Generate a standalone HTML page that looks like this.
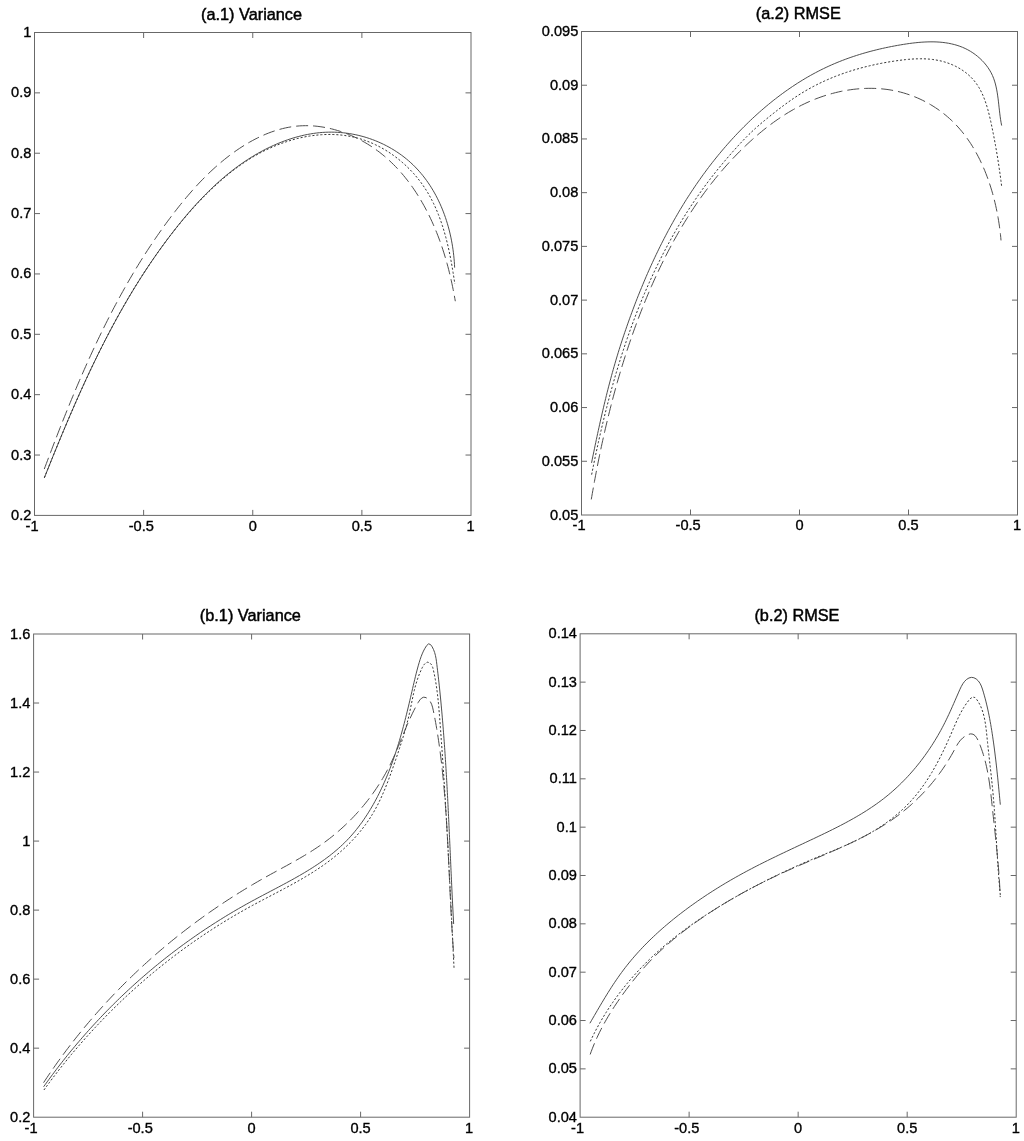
<!DOCTYPE html>
<html><head><meta charset="utf-8"><title>Variance and RMSE</title>
<style>html,body{margin:0;padding:0;background:#fff;}svg{display:block;}text{font-family:"Liberation Sans", Arial, Helvetica, sans-serif;font-size:14.6px;fill:#000;stroke:#000;stroke-width:0.35px;}text.t{font-size:16.3px;stroke-width:0.45px;}</style>
</head><body>
<svg width="1024" height="1141" viewBox="0 0 1024 1141">
<rect width="1024" height="1141" fill="#fff"/>
<rect x="34.50" y="32.50" width="436.50" height="482.90" fill="none" stroke="#686868" stroke-width="1"/>
<text transform="translate(32.00 530.80) scale(1 1.04)" text-anchor="middle">-1</text>
<text transform="translate(141.22 530.80) scale(1 1.04)" text-anchor="middle">-0.5</text>
<text transform="translate(252.75 530.80) scale(1 1.04)" text-anchor="middle">0</text>
<text transform="translate(361.88 530.80) scale(1 1.04)" text-anchor="middle">0.5</text>
<text transform="translate(470.50 530.80) scale(1 1.04)" text-anchor="middle">1</text>
<text transform="translate(31.30 519.90) scale(1 1.04)" text-anchor="end">0.2</text>
<text transform="translate(31.30 459.54) scale(1 1.04)" text-anchor="end">0.3</text>
<text transform="translate(31.30 399.17) scale(1 1.04)" text-anchor="end">0.4</text>
<text transform="translate(31.30 338.81) scale(1 1.04)" text-anchor="end">0.5</text>
<text transform="translate(31.30 278.45) scale(1 1.04)" text-anchor="end">0.6</text>
<text transform="translate(31.30 218.09) scale(1 1.04)" text-anchor="end">0.7</text>
<text transform="translate(31.30 157.72) scale(1 1.04)" text-anchor="end">0.8</text>
<text transform="translate(31.30 97.36) scale(1 1.04)" text-anchor="end">0.9</text>
<text transform="translate(31.30 37.00) scale(1 1.04)" text-anchor="end">1</text>
<path d="M143.62 515.40v-5.5M143.62 32.50v5.5M252.75 515.40v-5.5M252.75 32.50v5.5M361.88 515.40v-5.5M361.88 32.50v5.5M34.50 455.04h5.5M471.00 455.04h-5.5M34.50 394.67h5.5M471.00 394.67h-5.5M34.50 334.31h5.5M471.00 334.31h-5.5M34.50 273.95h5.5M471.00 273.95h-5.5M34.50 213.59h5.5M471.00 213.59h-5.5M34.50 153.22h5.5M471.00 153.22h-5.5M34.50 92.86h5.5M471.00 92.86h-5.5" stroke="#686868" stroke-width="1" fill="none"/>
<text class="t" x="251.55" y="19.70" text-anchor="middle">(a.1) Variance</text>
<path d="M44.35 477.90 L45.45 475.12 L46.56 472.33 L47.67 469.55 L48.79 466.77 L49.90 463.98 L51.02 461.20 L52.14 458.42 L53.27 455.64 L54.39 452.87 L55.52 450.09 L56.66 447.31 L57.79 444.54 L58.93 441.77 L60.08 439.00 L61.23 436.23 L62.38 433.46 L63.53 430.70 L64.69 427.94 L65.86 425.17 L67.03 422.42 L68.20 419.66 L69.38 416.90 L70.56 414.15 L71.75 411.40 L72.94 408.66 L74.14 405.91 L75.34 403.17 L76.55 400.43 L77.76 397.69 L78.98 394.96 L80.21 392.23 L81.44 389.50 L82.67 386.78 L83.92 384.06 L85.17 381.34 L86.42 378.63 L87.69 375.92 L88.96 373.21 L90.23 370.51 L91.51 367.81 L92.80 365.12 L94.10 362.42 L95.41 359.74 L96.72 357.05 L98.04 354.37 L99.37 351.70 L100.70 349.03 L102.04 346.36 L103.40 343.70 L104.76 341.04 L106.12 338.39 L107.50 335.74 L108.88 333.10 L110.28 330.46 L111.68 327.83 L113.09 325.20 L114.51 322.58 L115.94 319.96 L117.38 317.35 L118.83 314.74 L120.29 312.14 L121.75 309.54 L123.23 306.95 L124.72 304.36 L126.22 301.79 L127.73 299.21 L129.24 296.64 L130.77 294.08 L132.31 291.53 L133.86 288.98 L135.42 286.44 L137.00 283.90 L138.58 281.37 L140.17 278.85 L141.78 276.33 L143.40 273.82 L145.03 271.32 L146.67 268.82 L148.32 266.33 L149.98 263.85 L151.66 261.37 L153.35 258.90 L155.05 256.44 L156.76 253.99 L158.49 251.54 L160.23 249.10 L161.98 246.67 L163.75 244.25 L165.53 241.83 L167.32 239.42 L169.12 237.02 L170.94 234.63 L172.77 232.24 L174.62 229.87 L176.48 227.50 L178.35 225.15 L180.24 222.80 L182.15 220.47 L184.07 218.15 L186.00 215.84 L187.95 213.55 L189.92 211.27 L191.90 209.01 L193.90 206.76 L195.92 204.53 L197.95 202.32 L200.00 200.13 L202.07 197.96 L204.15 195.80 L206.26 193.67 L208.38 191.56 L210.52 189.47 L212.68 187.40 L214.85 185.36 L217.05 183.34 L219.27 181.35 L221.50 179.39 L223.76 177.45 L226.04 175.54 L228.33 173.65 L230.65 171.80 L232.99 169.97 L235.35 168.18 L237.73 166.42 L240.13 164.69 L242.56 162.99 L245.01 161.33 L247.48 159.70 L249.97 158.10 L252.48 156.54 L255.02 155.02 L257.58 153.53 L260.17 152.09 L262.78 150.68 L265.42 149.31 L268.08 147.98 L270.76 146.69 L273.47 145.45 L276.20 144.25 L278.95 143.09 L281.73 141.98 L284.53 140.92 L287.34 139.92 L290.18 138.96 L293.03 138.06 L295.90 137.22 L298.79 136.43 L301.69 135.71 L304.60 135.04 L307.53 134.44 L310.47 133.91 L313.42 133.44 L316.38 133.04 L319.35 132.71 L322.32 132.45 L325.31 132.27 L328.30 132.17 L331.29 132.14 L334.29 132.18 L337.29 132.30 L340.28 132.50 L343.27 132.78 L346.26 133.13 L349.24 133.55 L352.21 134.05 L355.16 134.63 L358.11 135.27 L361.03 136.00 L363.94 136.79 L366.83 137.66 L369.70 138.61 L372.54 139.62 L375.36 140.70 L378.15 141.86 L380.91 143.08 L383.63 144.37 L386.32 145.72 L388.97 147.15 L391.58 148.63 L394.16 150.18 L396.68 151.80 L399.17 153.47 L401.60 155.21 L403.99 157.01 L406.32 158.87 L408.60 160.78 L410.82 162.75 L412.99 164.78 L415.09 166.86 L417.14 169.00 L419.13 171.19 L421.07 173.43 L422.94 175.71 L424.76 178.05 L426.53 180.42 L428.23 182.85 L429.89 185.31 L431.48 187.81 L433.02 190.36 L434.51 192.93 L435.94 195.55 L437.31 198.20 L438.63 200.88 L439.90 203.59 L441.11 206.33 L442.27 209.09 L443.38 211.89 L444.43 214.70 L445.44 217.54 L446.38 220.40 L447.28 223.28 L448.12 226.17 L448.92 229.09 L449.66 232.01 L450.35 234.95 L450.99 237.90 L451.57 240.86 L452.11 243.82 L452.60 246.80 L453.04 249.77 L453.43 252.75 L453.76 255.74 L454.05 258.72 L454.30 261.69 L454.49 264.67 L454.63 267.64" fill="none" stroke="#444" stroke-width="0.95"/>
<path d="M44.36 477.61 L45.46 474.87 L46.57 472.12 L47.68 469.37 L48.79 466.62 L49.91 463.87 L51.03 461.12 L52.15 458.37 L53.27 455.61 L54.40 452.86 L55.53 450.10 L56.66 447.35 L57.80 444.59 L58.94 441.84 L60.08 439.08 L61.23 436.33 L62.38 433.57 L63.53 430.82 L64.69 428.06 L65.86 425.31 L67.03 422.56 L68.20 419.81 L69.38 417.05 L70.56 414.31 L71.74 411.56 L72.94 408.81 L74.13 406.07 L75.34 403.32 L76.54 400.58 L77.76 397.84 L78.98 395.10 L80.20 392.37 L81.43 389.64 L82.67 386.90 L83.91 384.18 L85.16 381.45 L86.42 378.73 L87.68 376.01 L88.95 373.29 L90.23 370.58 L91.51 367.87 L92.80 365.16 L94.10 362.46 L95.41 359.76 L96.72 357.06 L98.04 354.37 L99.37 351.68 L100.70 349.00 L102.05 346.32 L103.40 343.65 L104.76 340.98 L106.13 338.31 L107.50 335.65 L108.89 333.00 L110.28 330.34 L111.69 327.70 L113.10 325.06 L114.52 322.42 L115.95 319.80 L117.39 317.17 L118.84 314.56 L120.30 311.94 L121.77 309.34 L123.25 306.74 L124.74 304.15 L126.23 301.56 L127.74 298.98 L129.26 296.41 L130.79 293.84 L132.34 291.28 L133.89 288.73 L135.45 286.19 L137.02 283.65 L138.61 281.12 L140.21 278.59 L141.81 276.08 L143.43 273.57 L145.06 271.07 L146.71 268.58 L148.36 266.10 L150.03 263.63 L151.71 261.16 L153.40 258.70 L155.10 256.26 L156.82 253.82 L158.55 251.39 L160.29 248.96 L162.05 246.55 L163.81 244.15 L165.60 241.76 L167.39 239.37 L169.20 237.00 L171.02 234.63 L172.86 232.28 L174.71 229.94 L176.57 227.60 L178.45 225.28 L180.34 222.97 L182.25 220.66 L184.17 218.38 L186.10 216.10 L188.06 213.83 L190.03 211.58 L192.01 209.35 L194.01 207.13 L196.03 204.92 L198.07 202.73 L200.12 200.56 L202.19 198.40 L204.28 196.26 L206.39 194.14 L208.52 192.03 L210.67 189.95 L212.83 187.89 L215.02 185.84 L217.23 183.82 L219.46 181.82 L221.70 179.84 L223.98 177.89 L226.27 175.96 L228.59 174.06 L230.93 172.18 L233.29 170.34 L235.68 168.52 L238.10 166.74 L240.55 165.00 L243.02 163.28 L245.52 161.61 L248.05 159.97 L250.61 158.37 L253.20 156.82 L255.82 155.30 L258.47 153.83 L261.15 152.40 L263.86 151.02 L266.58 149.69 L269.34 148.40 L272.11 147.16 L274.91 145.97 L277.72 144.84 L280.56 143.75 L283.41 142.72 L286.27 141.75 L289.15 140.83 L292.05 139.96 L294.95 139.16 L297.87 138.41 L300.79 137.73 L303.72 137.10 L306.66 136.54 L309.60 136.05 L312.55 135.62 L315.50 135.25 L318.45 134.95 L321.40 134.72 L324.34 134.56 L327.29 134.48 L330.23 134.46 L333.16 134.52 L336.09 134.65 L339.00 134.85 L341.91 135.13 L344.81 135.50 L347.69 135.93 L350.56 136.45 L353.42 137.05 L356.25 137.74 L359.07 138.50 L361.88 139.35 L364.66 140.28 L367.41 141.29 L370.15 142.37 L372.85 143.53 L375.53 144.77 L378.19 146.07 L380.81 147.45 L383.40 148.90 L385.96 150.42 L388.48 152.00 L390.96 153.65 L393.41 155.37 L395.82 157.14 L398.19 158.98 L400.52 160.87 L402.80 162.82 L405.04 164.83 L407.22 166.89 L409.37 169.01 L411.46 171.18 L413.50 173.39 L415.48 175.66 L417.41 177.97 L419.29 180.33 L421.11 182.73 L422.87 185.17 L424.57 187.66 L426.20 190.18 L427.78 192.74 L429.29 195.34 L430.75 197.97 L432.14 200.63 L433.49 203.33 L434.77 206.05 L436.01 208.80 L437.20 211.57 L438.33 214.37 L439.42 217.19 L440.46 220.02 L441.46 222.88 L442.41 225.75 L443.32 228.64 L444.19 231.54 L445.03 234.44 L445.82 237.36 L446.58 240.29 L447.31 243.22 L448.00 246.15 L448.67 249.08 L449.30 252.02 L449.91 254.95 L450.49 257.88 L451.04 260.80 L451.58 263.72 L452.09 266.63 L452.58 269.52 L453.05 272.40 L453.51 275.27 L453.95 278.12 L454.38 280.96 L454.79 283.77" fill="none" stroke="#2a2a2a" stroke-width="0.95" stroke-dasharray="2.1 1.9"/>
<path d="M44.27 469.05 L45.32 466.27 L46.36 463.49 L47.41 460.72 L48.46 457.94 L49.52 455.16 L50.58 452.38 L51.64 449.60 L52.70 446.82 L53.77 444.04 L54.84 441.26 L55.92 438.48 L57.00 435.70 L58.08 432.92 L59.17 430.14 L60.26 427.36 L61.35 424.58 L62.45 421.81 L63.56 419.03 L64.67 416.26 L65.78 413.48 L66.90 410.71 L68.03 407.94 L69.16 405.17 L70.29 402.40 L71.43 399.63 L72.58 396.87 L73.73 394.10 L74.88 391.34 L76.05 388.58 L77.21 385.83 L78.39 383.07 L79.57 380.32 L80.76 377.57 L81.95 374.82 L83.15 372.08 L84.36 369.33 L85.57 366.60 L86.79 363.86 L88.01 361.13 L89.25 358.40 L90.49 355.67 L91.74 352.95 L92.99 350.23 L94.26 347.51 L95.53 344.80 L96.81 342.09 L98.09 339.39 L99.39 336.69 L100.69 333.99 L102.00 331.30 L103.32 328.61 L104.65 325.93 L105.98 323.25 L107.33 320.58 L108.68 317.91 L110.04 315.25 L111.41 312.59 L112.79 309.94 L114.18 307.29 L115.58 304.65 L116.99 302.01 L118.41 299.38 L119.84 296.75 L121.27 294.13 L122.72 291.52 L124.18 288.91 L125.65 286.31 L127.12 283.71 L128.61 281.12 L130.11 278.54 L131.62 275.96 L133.14 273.39 L134.67 270.83 L136.21 268.27 L137.76 265.72 L139.33 263.18 L140.90 260.64 L142.49 258.12 L144.09 255.59 L145.70 253.08 L147.32 250.58 L148.95 248.08 L150.60 245.59 L152.25 243.11 L153.92 240.63 L155.61 238.16 L157.30 235.71 L159.01 233.26 L160.73 230.82 L162.46 228.38 L164.20 225.96 L165.96 223.54 L167.73 221.14 L169.52 218.74 L171.31 216.35 L173.12 213.97 L174.95 211.60 L176.79 209.24 L178.64 206.89 L180.51 204.55 L182.39 202.23 L184.29 199.91 L186.21 197.61 L188.15 195.32 L190.11 193.05 L192.08 190.80 L194.08 188.56 L196.10 186.33 L198.14 184.13 L200.20 181.94 L202.29 179.77 L204.40 177.63 L206.53 175.50 L208.69 173.39 L210.88 171.31 L213.10 169.25 L215.34 167.22 L217.62 165.21 L219.92 163.22 L222.25 161.27 L224.61 159.34 L227.00 157.44 L229.42 155.58 L231.87 153.75 L234.34 151.95 L236.84 150.20 L239.36 148.49 L241.91 146.83 L244.48 145.21 L247.07 143.63 L249.68 142.11 L252.32 140.65 L254.98 139.23 L257.66 137.88 L260.35 136.58 L263.07 135.35 L265.80 134.17 L268.55 133.07 L271.32 132.03 L274.10 131.07 L276.90 130.17 L279.71 129.35 L282.53 128.61 L285.37 127.94 L288.22 127.36 L291.08 126.86 L293.95 126.45 L296.84 126.12 L299.73 125.88 L302.62 125.74 L305.53 125.68 L308.44 125.70 L311.35 125.82 L314.26 126.01 L317.17 126.29 L320.08 126.66 L322.99 127.10 L325.88 127.62 L328.77 128.22 L331.65 128.89 L334.52 129.64 L337.38 130.46 L340.22 131.35 L343.04 132.32 L345.84 133.35 L348.63 134.45 L351.39 135.62 L354.13 136.86 L356.84 138.15 L359.53 139.51 L362.18 140.93 L364.81 142.42 L367.40 143.95 L369.96 145.55 L372.49 147.20 L374.97 148.91 L377.42 150.67 L379.82 152.48 L382.18 154.34 L384.50 156.25 L386.78 158.21 L389.01 160.22 L391.20 162.27 L393.35 164.36 L395.46 166.49 L397.53 168.67 L399.56 170.89 L401.54 173.14 L403.49 175.43 L405.39 177.76 L407.26 180.12 L409.08 182.52 L410.87 184.94 L412.62 187.40 L414.33 189.88 L416.00 192.39 L417.63 194.93 L419.23 197.50 L420.78 200.08 L422.30 202.69 L423.79 205.32 L425.23 207.97 L426.64 210.64 L428.01 213.32 L429.35 216.02 L430.65 218.73 L431.92 221.46 L433.15 224.20 L434.35 226.95 L435.51 229.71 L436.64 232.48 L437.74 235.26 L438.81 238.05 L439.84 240.86 L440.85 243.67 L441.82 246.49 L442.76 249.31 L443.68 252.15 L444.56 254.99 L445.42 257.84 L446.25 260.70 L447.05 263.57 L447.83 266.44 L448.58 269.31 L449.31 272.19 L450.01 275.08 L450.69 277.97 L451.34 280.86 L451.98 283.76 L452.59 286.66 L453.17 289.57 L453.74 292.48 L454.29 295.39 L454.81 298.30 L455.32 301.21" fill="none" stroke="#444" stroke-width="0.95" stroke-dasharray="12 5"/>
<rect x="581.50" y="31.50" width="436.00" height="483.50" fill="none" stroke="#686868" stroke-width="1"/>
<text transform="translate(579.00 530.40) scale(1 1.04)" text-anchor="middle">-1</text>
<text transform="translate(688.10 530.40) scale(1 1.04)" text-anchor="middle">-0.5</text>
<text transform="translate(799.50 530.40) scale(1 1.04)" text-anchor="middle">0</text>
<text transform="translate(908.50 530.40) scale(1 1.04)" text-anchor="middle">0.5</text>
<text transform="translate(1017.00 530.40) scale(1 1.04)" text-anchor="middle">1</text>
<text transform="translate(578.30 519.50) scale(1 1.04)" text-anchor="end">0.05</text>
<text transform="translate(578.30 465.78) scale(1 1.04)" text-anchor="end">0.055</text>
<text transform="translate(578.30 412.06) scale(1 1.04)" text-anchor="end">0.06</text>
<text transform="translate(578.30 358.33) scale(1 1.04)" text-anchor="end">0.065</text>
<text transform="translate(578.30 304.61) scale(1 1.04)" text-anchor="end">0.07</text>
<text transform="translate(578.30 250.89) scale(1 1.04)" text-anchor="end">0.075</text>
<text transform="translate(578.30 197.17) scale(1 1.04)" text-anchor="end">0.08</text>
<text transform="translate(578.30 143.44) scale(1 1.04)" text-anchor="end">0.085</text>
<text transform="translate(578.30 89.72) scale(1 1.04)" text-anchor="end">0.09</text>
<text transform="translate(578.30 36.00) scale(1 1.04)" text-anchor="end">0.095</text>
<path d="M690.50 515.00v-5.5M690.50 31.50v5.5M799.50 515.00v-5.5M799.50 31.50v5.5M908.50 515.00v-5.5M908.50 31.50v5.5M581.50 461.28h5.5M1017.50 461.28h-5.5M581.50 407.56h5.5M1017.50 407.56h-5.5M581.50 353.83h5.5M1017.50 353.83h-5.5M581.50 300.11h5.5M1017.50 300.11h-5.5M581.50 246.39h5.5M1017.50 246.39h-5.5M581.50 192.67h5.5M1017.50 192.67h-5.5M581.50 138.94h5.5M1017.50 138.94h-5.5M581.50 85.22h5.5M1017.50 85.22h-5.5" stroke="#686868" stroke-width="1" fill="none"/>
<text class="t" x="798.30" y="18.70" text-anchor="middle">(a.2) RMSE</text>
<path d="M591.54 462.86 L592.14 459.93 L592.73 457.00 L593.33 454.08 L593.94 451.15 L594.54 448.22 L595.15 445.29 L595.77 442.36 L596.38 439.43 L597.01 436.50 L597.64 433.57 L598.27 430.64 L598.91 427.72 L599.55 424.79 L600.20 421.86 L600.86 418.94 L601.52 416.01 L602.19 413.09 L602.86 410.17 L603.55 407.25 L604.24 404.33 L604.94 401.42 L605.65 398.50 L606.36 395.59 L607.09 392.68 L607.82 389.77 L608.56 386.87 L609.32 383.97 L610.08 381.07 L610.85 378.18 L611.64 375.28 L612.43 372.39 L613.24 369.51 L614.05 366.63 L614.88 363.75 L615.72 360.88 L616.57 358.01 L617.44 355.14 L618.31 352.28 L619.20 349.42 L620.10 346.57 L621.01 343.72 L621.94 340.87 L622.87 338.03 L623.82 335.19 L624.78 332.36 L625.75 329.53 L626.73 326.70 L627.72 323.87 L628.72 321.05 L629.73 318.23 L630.75 315.41 L631.79 312.59 L632.83 309.78 L633.89 306.98 L634.95 304.17 L636.03 301.37 L637.12 298.58 L638.22 295.78 L639.34 293.00 L640.46 290.21 L641.60 287.43 L642.75 284.66 L643.91 281.89 L645.08 279.13 L646.26 276.37 L647.46 273.62 L648.67 270.87 L649.89 268.13 L651.13 265.39 L652.38 262.66 L653.64 259.94 L654.91 257.22 L656.20 254.51 L657.50 251.80 L658.81 249.11 L660.14 246.42 L661.48 243.73 L662.83 241.06 L664.20 238.39 L665.59 235.73 L666.98 233.08 L668.39 230.43 L669.82 227.80 L671.26 225.17 L672.71 222.55 L674.18 219.94 L675.66 217.34 L677.16 214.75 L678.67 212.17 L680.20 209.59 L681.74 207.03 L683.30 204.47 L684.87 201.93 L686.46 199.39 L688.07 196.87 L689.69 194.36 L691.32 191.85 L692.97 189.36 L694.64 186.88 L696.33 184.41 L698.03 181.95 L699.74 179.50 L701.48 177.06 L703.23 174.64 L704.99 172.22 L706.77 169.82 L708.57 167.43 L710.39 165.06 L712.23 162.69 L714.08 160.34 L715.95 158.00 L717.83 155.67 L719.74 153.36 L721.66 151.06 L723.60 148.78 L725.55 146.50 L727.53 144.25 L729.52 142.00 L731.53 139.77 L733.56 137.55 L735.61 135.35 L737.68 133.17 L739.76 131.00 L741.87 128.84 L743.99 126.70 L746.13 124.58 L748.29 122.48 L750.46 120.39 L752.65 118.32 L754.86 116.27 L757.09 114.24 L759.34 112.23 L761.60 110.24 L763.88 108.28 L766.17 106.33 L768.49 104.41 L770.82 102.50 L773.17 100.62 L775.53 98.77 L777.91 96.94 L780.31 95.13 L782.72 93.35 L785.15 91.59 L787.60 89.86 L790.06 88.16 L792.54 86.48 L795.03 84.83 L797.54 83.21 L800.07 81.61 L802.61 80.05 L805.16 78.51 L807.74 77.01 L810.32 75.54 L812.93 74.09 L815.54 72.68 L818.18 71.30 L820.82 69.95 L823.49 68.64 L826.16 67.36 L828.86 66.11 L831.56 64.90 L834.28 63.72 L837.02 62.57 L839.77 61.46 L842.53 60.38 L845.31 59.33 L848.10 58.31 L850.90 57.32 L853.72 56.36 L856.55 55.44 L859.40 54.54 L862.26 53.67 L865.13 52.83 L868.01 52.02 L870.91 51.24 L873.82 50.49 L876.75 49.76 L879.68 49.06 L882.63 48.38 L885.59 47.73 L888.57 47.11 L891.55 46.51 L894.55 45.94 L897.56 45.39 L900.58 44.87 L903.62 44.37 L906.66 43.90 L909.70 43.46 L912.75 43.07 L915.80 42.72 L918.85 42.42 L921.89 42.18 L924.93 42.00 L927.95 41.88 L930.97 41.83 L933.96 41.85 L936.94 41.96 L939.90 42.15 L942.84 42.43 L945.74 42.80 L948.63 43.28 L951.47 43.86 L954.29 44.54 L957.07 45.34 L959.81 46.26 L962.51 47.31 L965.16 48.48 L967.77 49.79 L970.32 51.24 L972.83 52.83 L975.27 54.56 L977.64 56.43 L979.93 58.42 L982.11 60.54 L984.19 62.78 L986.14 65.12 L987.95 67.57 L989.62 70.11 L991.12 72.74 L992.45 75.45 L993.59 78.24 L994.57 81.09 L995.41 83.99 L996.12 86.93 L996.72 89.90 L997.25 92.88 L997.70 95.88 L998.11 98.88 L998.47 101.88 L998.81 104.88 L999.14 107.87 L999.47 110.86 L999.82 113.84 L1000.20 116.80 L1000.62 119.74 L1001.10 122.67 L1001.65 125.56" fill="none" stroke="#444" stroke-width="0.95"/>
<path d="M591.64 474.63 L592.22 471.72 L592.80 468.80 L593.38 465.88 L593.98 462.96 L594.58 460.04 L595.19 457.12 L595.80 454.20 L596.42 451.28 L597.05 448.36 L597.68 445.44 L598.33 442.52 L598.98 439.60 L599.64 436.68 L600.30 433.76 L600.97 430.85 L601.65 427.93 L602.34 425.01 L603.04 422.10 L603.75 419.19 L604.46 416.27 L605.18 413.36 L605.91 410.45 L606.65 407.55 L607.40 404.64 L608.15 401.74 L608.92 398.83 L609.69 395.93 L610.47 393.04 L611.27 390.14 L612.07 387.25 L612.88 384.36 L613.70 381.47 L614.53 378.58 L615.37 375.70 L616.22 372.82 L617.08 369.94 L617.95 367.07 L618.82 364.19 L619.71 361.33 L620.61 358.46 L621.52 355.60 L622.44 352.74 L623.38 349.89 L624.32 347.04 L625.27 344.19 L626.23 341.35 L627.21 338.51 L628.19 335.68 L629.19 332.85 L630.20 330.02 L631.22 327.20 L632.25 324.39 L633.29 321.57 L634.35 318.77 L635.41 315.97 L636.49 313.17 L637.58 310.38 L638.68 307.59 L639.80 304.81 L640.92 302.03 L642.06 299.27 L643.22 296.50 L644.38 293.74 L645.56 290.99 L646.75 288.24 L647.95 285.50 L649.17 282.77 L650.40 280.04 L651.64 277.32 L652.89 274.60 L654.16 271.90 L655.45 269.19 L656.74 266.50 L658.05 263.81 L659.38 261.13 L660.71 258.46 L662.07 255.79 L663.43 253.13 L664.81 250.48 L666.21 247.83 L667.62 245.20 L669.04 242.57 L670.48 239.95 L671.93 237.33 L673.40 234.73 L674.88 232.13 L676.38 229.54 L677.90 226.96 L679.42 224.39 L680.97 221.83 L682.53 219.28 L684.10 216.73 L685.69 214.19 L687.30 211.67 L688.92 209.15 L690.56 206.64 L692.22 204.14 L693.89 201.65 L695.57 199.17 L697.28 196.70 L699.00 194.24 L700.74 191.78 L702.49 189.34 L704.26 186.91 L706.05 184.49 L707.85 182.08 L709.67 179.68 L711.51 177.29 L713.37 174.91 L715.24 172.54 L717.13 170.18 L719.04 167.83 L720.96 165.50 L722.90 163.18 L724.85 160.87 L726.81 158.57 L728.78 156.29 L730.75 154.02 L732.74 151.76 L734.73 149.52 L736.73 147.30 L738.73 145.10 L740.75 142.92 L742.79 140.76 L744.84 138.62 L746.92 136.50 L749.01 134.42 L751.14 132.36 L753.29 130.33 L755.47 128.33 L757.69 126.36 L759.92 124.41 L762.19 122.49 L764.48 120.58 L766.79 118.68 L769.11 116.79 L771.46 114.91 L773.82 113.04 L776.20 111.17 L778.59 109.31 L781.00 107.47 L783.43 105.64 L785.87 103.83 L788.32 102.05 L790.80 100.30 L793.29 98.58 L795.80 96.89 L798.32 95.24 L800.87 93.63 L803.43 92.07 L806.00 90.54 L808.60 89.06 L811.21 87.62 L813.83 86.22 L816.47 84.85 L819.13 83.53 L821.81 82.24 L824.50 81.00 L827.20 79.79 L829.92 78.62 L832.65 77.48 L835.40 76.38 L838.17 75.32 L840.95 74.29 L843.74 73.29 L846.55 72.33 L849.37 71.41 L852.20 70.52 L855.05 69.66 L857.91 68.83 L860.79 68.03 L863.68 67.27 L866.58 66.54 L869.49 65.83 L872.41 65.16 L875.35 64.52 L878.30 63.90 L881.26 63.32 L884.23 62.76 L887.22 62.23 L890.21 61.72 L893.22 61.25 L896.24 60.80 L899.26 60.38 L902.30 59.99 L905.34 59.64 L908.38 59.35 L911.42 59.10 L914.46 58.92 L917.50 58.81 L920.52 58.77 L923.54 58.80 L926.55 58.93 L929.54 59.15 L932.52 59.46 L935.47 59.89 L938.41 60.42 L941.32 61.07 L944.20 61.85 L947.05 62.74 L949.85 63.75 L952.60 64.88 L955.28 66.13 L957.91 67.49 L960.45 68.97 L962.92 70.57 L965.30 72.28 L967.58 74.10 L969.76 76.03 L971.82 78.08 L973.77 80.24 L975.59 82.51 L977.28 84.88 L978.85 87.36 L980.30 89.92 L981.65 92.57 L982.90 95.29 L984.05 98.08 L985.12 100.93 L986.11 103.82 L987.03 106.76 L987.89 109.73 L988.69 112.73 L989.44 115.74 L990.15 118.76 L990.82 121.78 L991.46 124.80 L992.09 127.79 L992.69 130.77 L993.29 133.73 L993.86 136.68 L994.42 139.61 L994.97 142.54 L995.50 145.45 L996.02 148.36 L996.52 151.26 L997.01 154.17 L997.49 157.07 L997.96 159.98 L998.41 162.89 L998.86 165.81 L999.29 168.74 L999.71 171.69 L1000.12 174.64 L1000.53 177.62 L1000.92 180.61 L1001.30 183.62 L1001.68 186.66" fill="none" stroke="#2a2a2a" stroke-width="0.95" stroke-dasharray="2.1 1.9"/>
<path d="M591.28 499.42 L591.79 496.46 L592.30 493.50 L592.82 490.54 L593.35 487.58 L593.88 484.63 L594.42 481.67 L594.97 478.72 L595.52 475.77 L596.08 472.82 L596.65 469.87 L597.22 466.92 L597.80 463.98 L598.39 461.04 L598.98 458.10 L599.58 455.16 L600.19 452.22 L600.81 449.28 L601.43 446.35 L602.06 443.42 L602.70 440.49 L603.35 437.57 L604.01 434.64 L604.67 431.72 L605.34 428.80 L606.02 425.88 L606.71 422.97 L607.41 420.05 L608.11 417.14 L608.82 414.23 L609.55 411.33 L610.28 408.42 L611.02 405.52 L611.77 402.63 L612.52 399.73 L613.29 396.84 L614.07 393.95 L614.85 391.06 L615.65 388.17 L616.45 385.29 L617.27 382.41 L618.09 379.54 L618.93 376.66 L619.77 373.79 L620.62 370.93 L621.49 368.06 L622.36 365.20 L623.25 362.34 L624.14 359.49 L625.05 356.63 L625.96 353.78 L626.89 350.94 L627.83 348.10 L628.78 345.26 L629.74 342.42 L630.71 339.59 L631.69 336.76 L632.68 333.94 L633.68 331.11 L634.70 328.29 L635.73 325.48 L636.76 322.67 L637.82 319.86 L638.88 317.06 L639.95 314.26 L641.04 311.46 L642.14 308.67 L643.25 305.88 L644.37 303.09 L645.50 300.31 L646.65 297.53 L647.81 294.76 L648.99 292.00 L650.17 289.23 L651.37 286.48 L652.58 283.73 L653.81 280.98 L655.05 278.24 L656.30 275.51 L657.57 272.78 L658.85 270.06 L660.14 267.35 L661.45 264.64 L662.78 261.94 L664.11 259.25 L665.47 256.57 L666.83 253.89 L668.21 251.22 L669.61 248.57 L671.02 245.92 L672.45 243.28 L673.89 240.64 L675.35 238.02 L676.82 235.41 L678.31 232.81 L679.82 230.21 L681.34 227.63 L682.88 225.06 L684.43 222.50 L686.00 219.95 L687.59 217.41 L689.19 214.89 L690.81 212.37 L692.45 209.87 L694.10 207.38 L695.78 204.90 L697.47 202.43 L699.17 199.98 L700.90 197.54 L702.64 195.11 L704.40 192.70 L706.18 190.30 L707.97 187.92 L709.79 185.55 L711.62 183.19 L713.47 180.85 L715.34 178.52 L717.23 176.21 L719.14 173.92 L721.07 171.64 L723.02 169.37 L724.98 167.12 L726.97 164.89 L728.97 162.68 L731.00 160.48 L733.04 158.30 L735.11 156.13 L737.19 153.99 L739.30 151.86 L741.43 149.75 L743.57 147.65 L745.74 145.58 L747.93 143.53 L750.14 141.49 L752.37 139.47 L754.62 137.48 L756.89 135.50 L759.19 133.56 L761.50 131.63 L763.84 129.73 L766.20 127.86 L768.58 126.02 L770.99 124.21 L773.41 122.43 L775.86 120.68 L778.33 118.96 L780.82 117.28 L783.34 115.63 L785.87 114.02 L788.43 112.45 L791.02 110.92 L793.62 109.42 L796.25 107.97 L798.90 106.56 L801.58 105.20 L804.28 103.88 L807.00 102.60 L809.75 101.38 L812.52 100.20 L815.31 99.07 L818.13 98.00 L820.97 96.97 L823.83 96.00 L826.71 95.08 L829.60 94.22 L832.52 93.41 L835.45 92.66 L838.39 91.96 L841.34 91.32 L844.31 90.75 L847.28 90.23 L850.26 89.77 L853.24 89.37 L856.23 89.04 L859.23 88.77 L862.22 88.56 L865.21 88.42 L868.21 88.34 L871.20 88.34 L874.18 88.39 L877.16 88.52 L880.13 88.72 L883.09 88.99 L886.04 89.32 L888.97 89.73 L891.90 90.22 L894.81 90.77 L897.70 91.41 L900.57 92.11 L903.42 92.89 L906.25 93.75 L909.06 94.68 L911.85 95.68 L914.60 96.75 L917.33 97.89 L920.04 99.09 L922.71 100.37 L925.34 101.71 L927.95 103.12 L930.52 104.60 L933.05 106.14 L935.54 107.74 L938.00 109.40 L940.41 111.13 L942.78 112.92 L945.10 114.76 L947.38 116.67 L949.61 118.63 L951.80 120.65 L953.93 122.72 L956.01 124.85 L958.03 127.03 L960.00 129.27 L961.92 131.55 L963.79 133.89 L965.61 136.27 L967.37 138.69 L969.09 141.16 L970.75 143.67 L972.36 146.22 L973.93 148.80 L975.44 151.42 L976.91 154.08 L978.33 156.77 L979.71 159.48 L981.03 162.23 L982.31 165.00 L983.55 167.80 L984.74 170.62 L985.88 173.46 L986.98 176.32 L988.04 179.20 L989.05 182.09 L990.02 184.99 L990.95 187.91 L991.84 190.84 L992.69 193.78 L993.49 196.72 L994.26 199.67 L994.98 202.62 L995.67 205.57 L996.32 208.52 L996.93 211.47 L997.50 214.42 L998.03 217.35 L998.53 220.28 L998.99 223.20 L999.42 226.11 L999.81 229.00 L1000.17 231.88 L1000.49 234.74 L1000.78 237.58 L1001.03 240.41" fill="none" stroke="#444" stroke-width="0.95" stroke-dasharray="12 5"/>
<rect x="33.60" y="634.00" width="436.00" height="483.20" fill="none" stroke="#686868" stroke-width="1"/>
<text transform="translate(31.10 1132.60) scale(1 1.04)" text-anchor="middle">-1</text>
<text transform="translate(140.20 1132.60) scale(1 1.04)" text-anchor="middle">-0.5</text>
<text transform="translate(251.60 1132.60) scale(1 1.04)" text-anchor="middle">0</text>
<text transform="translate(360.60 1132.60) scale(1 1.04)" text-anchor="middle">0.5</text>
<text transform="translate(469.10 1132.60) scale(1 1.04)" text-anchor="middle">1</text>
<text transform="translate(30.40 1121.70) scale(1 1.04)" text-anchor="end">0.2</text>
<text transform="translate(30.40 1052.67) scale(1 1.04)" text-anchor="end">0.4</text>
<text transform="translate(30.40 983.64) scale(1 1.04)" text-anchor="end">0.6</text>
<text transform="translate(30.40 914.61) scale(1 1.04)" text-anchor="end">0.8</text>
<text transform="translate(30.40 845.59) scale(1 1.04)" text-anchor="end">1</text>
<text transform="translate(30.40 776.56) scale(1 1.04)" text-anchor="end">1.2</text>
<text transform="translate(30.40 707.53) scale(1 1.04)" text-anchor="end">1.4</text>
<text transform="translate(30.40 638.50) scale(1 1.04)" text-anchor="end">1.6</text>
<path d="M142.60 1117.20v-5.5M142.60 634.00v5.5M251.60 1117.20v-5.5M251.60 634.00v5.5M360.60 1117.20v-5.5M360.60 634.00v5.5M33.60 1048.17h5.5M469.60 1048.17h-5.5M33.60 979.14h5.5M469.60 979.14h-5.5M33.60 910.11h5.5M469.60 910.11h-5.5M33.60 841.09h5.5M469.60 841.09h-5.5M33.60 772.06h5.5M469.60 772.06h-5.5M33.60 703.03h5.5M469.60 703.03h-5.5" stroke="#686868" stroke-width="1" fill="none"/>
<text class="t" x="250.40" y="621.20" text-anchor="middle">(b.1) Variance</text>
<path d="M43.62 1086.79 L45.38 1084.33 L47.14 1081.88 L48.92 1079.44 L50.71 1077.01 L52.50 1074.59 L54.31 1072.18 L56.13 1069.78 L57.95 1067.38 L59.79 1065.00 L61.64 1062.63 L63.50 1060.27 L65.37 1057.92 L67.25 1055.57 L69.14 1053.24 L71.04 1050.92 L72.95 1048.61 L74.87 1046.30 L76.80 1044.01 L78.74 1041.73 L80.69 1039.46 L82.65 1037.20 L84.62 1034.94 L86.60 1032.70 L88.59 1030.47 L90.59 1028.25 L92.60 1026.04 L94.63 1023.83 L96.66 1021.64 L98.70 1019.46 L100.75 1017.29 L102.81 1015.13 L104.88 1012.98 L106.96 1010.84 L109.05 1008.72 L111.15 1006.60 L113.26 1004.49 L115.38 1002.39 L117.51 1000.31 L119.65 998.23 L121.80 996.17 L123.96 994.11 L126.13 992.07 L128.31 990.04 L130.49 988.01 L132.69 986.00 L134.90 984.00 L137.11 982.01 L139.34 980.03 L141.58 978.06 L143.82 976.11 L146.08 974.16 L148.34 972.22 L150.62 970.30 L152.90 968.39 L155.19 966.48 L157.50 964.59 L159.81 962.71 L162.13 960.84 L164.46 958.99 L166.80 957.14 L169.15 955.31 L171.51 953.48 L173.87 951.67 L176.25 949.87 L178.64 948.08 L181.03 946.30 L183.44 944.53 L185.85 942.78 L188.28 941.03 L190.71 939.30 L193.15 937.58 L195.60 935.87 L198.06 934.17 L200.53 932.48 L203.01 930.81 L205.49 929.14 L207.99 927.49 L210.50 925.85 L213.01 924.22 L215.53 922.61 L218.06 921.00 L220.60 919.41 L223.15 917.83 L225.71 916.26 L228.28 914.70 L230.86 913.16 L233.44 911.62 L236.04 910.10 L238.64 908.59 L241.25 907.10 L243.87 905.61 L246.50 904.14 L249.14 902.68 L251.78 901.23 L254.44 899.79 L257.10 898.36 L259.76 896.94 L262.43 895.52 L265.10 894.11 L267.78 892.71 L270.45 891.30 L273.12 889.90 L275.79 888.49 L278.46 887.08 L281.12 885.67 L283.78 884.25 L286.43 882.82 L289.07 881.39 L291.70 879.94 L294.32 878.49 L296.92 877.02 L299.52 875.53 L302.10 874.03 L304.66 872.52 L307.21 870.98 L309.74 869.42 L312.25 867.84 L314.74 866.24 L317.21 864.61 L319.66 862.96 L322.08 861.28 L324.47 859.57 L326.84 857.82 L329.19 856.05 L331.50 854.24 L333.78 852.40 L336.03 850.51 L338.25 848.59 L340.43 846.63 L342.58 844.63 L344.70 842.59 L346.77 840.50 L348.81 838.37 L350.80 836.19 L352.76 833.96 L354.68 831.69 L356.56 829.38 L358.40 827.03 L360.20 824.64 L361.97 822.22 L363.70 819.76 L365.39 817.26 L367.04 814.74 L368.66 812.18 L370.24 809.60 L371.79 806.99 L373.30 804.36 L374.78 801.71 L376.22 799.03 L377.63 796.34 L379.00 793.63 L380.35 790.90 L381.65 788.16 L382.93 785.41 L384.17 782.65 L385.38 779.88 L386.57 777.10 L387.71 774.32 L388.83 771.54 L389.92 768.75 L390.98 765.95 L392.02 763.15 L393.02 760.35 L394.01 757.54 L394.97 754.73 L395.90 751.91 L396.81 749.09 L397.70 746.26 L398.57 743.42 L399.43 740.59 L400.26 737.74 L401.07 734.89 L401.87 732.04 L402.66 729.18 L403.43 726.31 L404.19 723.44 L404.93 720.56 L405.66 717.68 L406.39 714.79 L407.10 711.90 L407.81 709.00 L408.51 706.09 L409.20 703.18 L409.89 700.26 L410.57 697.33 L411.25 694.40 L411.93 691.47 L412.60 688.52 L413.28 685.57 L413.97 682.63 L414.66 679.69 L415.37 676.75 L416.10 673.83 L416.85 670.91 L417.62 668.02 L418.42 665.15 L419.26 662.30 L420.14 659.48 L421.10 656.68 L422.19 653.89 L423.45 651.09 L424.93 648.30 L426.65 645.57 L428.55 643.87 L430.44 644.47 L432.17 646.82 L433.56 649.63 L434.62 652.49 L435.41 655.39 L436.00 658.33 L436.45 661.30 L436.82 664.27 L437.18 667.25 L437.54 670.22 L437.89 673.20 L438.23 676.18 L438.56 679.15 L438.89 682.13 L439.21 685.11 L439.52 688.09 L439.83 691.07 L440.13 694.04 L440.43 697.02 L440.72 700.00 L441.00 702.98 L441.28 705.96 L441.55 708.94 L441.82 711.93 L442.08 714.91 L442.34 717.89 L442.59 720.87 L442.83 723.85 L443.07 726.83 L443.31 729.82 L443.54 732.80 L443.77 735.78 L443.99 738.77 L444.21 741.75 L444.42 744.73 L444.63 747.72 L444.84 750.70 L445.04 753.69 L445.23 756.67 L445.43 759.66 L445.62 762.64 L445.81 765.63 L445.99 768.61 L446.17 771.60 L446.35 774.58 L446.52 777.57 L446.69 780.56 L446.86 783.54 L447.02 786.53 L447.19 789.52 L447.35 792.50 L447.51 795.49 L447.66 798.48 L447.81 801.46 L447.97 804.45 L448.12 807.44 L448.26 810.43 L448.41 813.41 L448.55 816.40 L448.70 819.39 L448.84 822.38 L448.98 825.37 L449.12 828.36 L449.26 831.34 L449.39 834.33 L449.53 837.32 L449.67 840.31 L449.80 843.30 L449.94 846.29 L450.07 849.28 L450.21 852.27 L450.34 855.25 L450.47 858.24 L450.61 861.23 L450.74 864.22 L450.88 867.21 L451.01 870.20 L451.15 873.19 L451.29 876.18 L451.42 879.17 L451.56 882.16 L451.70 885.15 L451.84 888.13 L451.98 891.12 L452.12 894.11 L452.27 897.10 L452.41 900.09 L452.56 903.08 L452.71 906.07 L452.86 909.06 L453.02 912.05 L453.17 915.04 L453.33 918.02 L453.49 921.01 L453.65 924.00" fill="none" stroke="#444" stroke-width="0.95"/>
<path d="M43.92 1090.01 L45.68 1087.58 L47.44 1085.16 L49.22 1082.75 L51.01 1080.34 L52.81 1077.95 L54.62 1075.57 L56.44 1073.19 L58.27 1070.82 L60.11 1068.46 L61.97 1066.11 L63.83 1063.77 L65.71 1061.44 L67.59 1059.12 L69.49 1056.80 L71.40 1054.50 L73.31 1052.20 L75.24 1049.91 L77.18 1047.64 L79.13 1045.37 L81.09 1043.11 L83.06 1040.86 L85.05 1038.62 L87.04 1036.39 L89.04 1034.17 L91.05 1031.96 L93.08 1029.76 L95.11 1027.57 L97.15 1025.39 L99.20 1023.21 L101.27 1021.05 L103.34 1018.90 L105.43 1016.76 L107.52 1014.62 L109.62 1012.50 L111.74 1010.39 L113.86 1008.29 L115.99 1006.20 L118.14 1004.11 L120.29 1002.04 L122.45 999.98 L124.62 997.93 L126.81 995.89 L129.00 993.86 L131.20 991.84 L133.41 989.83 L135.63 987.83 L137.86 985.85 L140.10 983.87 L142.35 981.90 L144.61 979.95 L146.87 978.00 L149.15 976.07 L151.44 974.15 L153.73 972.24 L156.04 970.34 L158.35 968.45 L160.67 966.57 L163.00 964.70 L165.35 962.84 L167.69 961.00 L170.05 959.17 L172.42 957.35 L174.80 955.53 L177.18 953.74 L179.58 951.95 L181.98 950.17 L184.39 948.41 L186.81 946.66 L189.24 944.92 L191.68 943.19 L194.12 941.47 L196.58 939.76 L199.04 938.07 L201.51 936.39 L203.99 934.72 L206.48 933.06 L208.98 931.42 L211.48 929.78 L213.99 928.16 L216.52 926.55 L219.04 924.96 L221.58 923.37 L224.13 921.80 L226.68 920.24 L229.24 918.69 L231.81 917.16 L234.39 915.64 L236.98 914.13 L239.57 912.63 L242.17 911.15 L244.78 909.68 L247.40 908.22 L250.02 906.77 L252.65 905.34 L255.29 903.92 L257.94 902.51 L260.58 901.10 L263.24 899.70 L265.89 898.31 L268.54 896.92 L271.20 895.53 L273.85 894.14 L276.51 892.75 L279.16 891.35 L281.80 889.95 L284.44 888.54 L287.08 887.13 L289.71 885.71 L292.33 884.27 L294.94 882.82 L297.54 881.36 L300.13 879.89 L302.71 878.39 L305.28 876.88 L307.83 875.34 L310.37 873.79 L312.89 872.21 L315.39 870.61 L317.88 868.97 L320.35 867.31 L322.79 865.63 L325.22 863.91 L327.62 862.15 L330.00 860.36 L332.36 858.54 L334.69 856.68 L337.00 854.78 L339.27 852.85 L341.52 850.87 L343.74 848.87 L345.92 846.82 L348.07 844.74 L350.19 842.63 L352.26 840.47 L354.30 838.28 L356.30 836.06 L358.26 833.80 L360.18 831.51 L362.05 829.18 L363.88 826.81 L365.66 824.41 L367.39 821.98 L369.08 819.51 L370.71 817.00 L372.29 814.46 L373.81 811.89 L375.28 809.28 L376.71 806.65 L378.08 803.99 L379.41 801.30 L380.69 798.59 L381.94 795.87 L383.15 793.12 L384.32 790.37 L385.46 787.61 L386.57 784.83 L387.66 782.06 L388.72 779.28 L389.75 776.50 L390.77 773.71 L391.78 770.91 L392.77 768.12 L393.75 765.31 L394.72 762.50 L395.69 759.68 L396.65 756.85 L397.61 754.02 L398.57 751.18 L399.51 748.33 L400.45 745.47 L401.37 742.61 L402.27 739.75 L403.16 736.88 L404.03 734.00 L404.88 731.12 L405.70 728.24 L406.49 725.35 L407.26 722.46 L407.99 719.56 L408.69 716.67 L409.36 713.77 L409.99 710.86 L410.59 707.96 L411.18 705.06 L411.76 702.15 L412.35 699.25 L412.95 696.34 L413.59 693.44 L414.26 690.53 L414.99 687.63 L415.78 684.73 L416.63 681.83 L417.58 678.93 L418.61 676.03 L419.75 673.14 L421.01 670.26 L422.40 667.38 L423.94 664.77 L425.69 662.88 L427.69 662.16 L429.85 662.93 L431.61 664.86 L432.74 667.53 L433.51 670.57 L434.18 673.64 L434.79 676.71 L435.35 679.76 L435.87 682.79 L436.34 685.81 L436.78 688.83 L437.17 691.83 L437.54 694.83 L437.88 697.81 L438.19 700.79 L438.47 703.77 L438.74 706.74 L439.00 709.71 L439.24 712.67 L439.48 715.64 L439.71 718.61 L439.94 721.57 L440.16 724.54 L440.39 727.51 L440.61 730.48 L440.83 733.45 L441.05 736.42 L441.26 739.39 L441.48 742.36 L441.69 745.34 L441.90 748.31 L442.11 751.29 L442.31 754.26 L442.51 757.24 L442.72 760.21 L442.92 763.19 L443.12 766.17 L443.31 769.15 L443.51 772.13 L443.70 775.11 L443.89 778.09 L444.08 781.07 L444.27 784.05 L444.46 787.04 L444.64 790.02 L444.83 793.00 L445.01 795.99 L445.19 798.97 L445.37 801.96 L445.55 804.94 L445.72 807.93 L445.90 810.91 L446.07 813.90 L446.25 816.89 L446.42 819.87 L446.59 822.86 L446.76 825.85 L446.93 828.83 L447.09 831.82 L447.26 834.81 L447.42 837.80 L447.59 840.79 L447.75 843.78 L447.91 846.76 L448.07 849.75 L448.23 852.74 L448.39 855.73 L448.55 858.72 L448.71 861.71 L448.86 864.70 L449.02 867.69 L449.17 870.67 L449.33 873.66 L449.48 876.65 L449.63 879.64 L449.79 882.63 L449.94 885.62 L450.09 888.61 L450.24 891.59 L450.39 894.58 L450.54 897.57 L450.69 900.56 L450.84 903.54 L450.99 906.53 L451.14 909.52 L451.29 912.50 L451.43 915.49 L451.58 918.47 L451.73 921.46 L451.88 924.44 L452.02 927.43 L452.17 930.41 L452.32 933.39 L452.46 936.38 L452.61 939.36 L452.76 942.34 L452.91 945.32 L453.05 948.30 L453.20 951.28 L453.35 954.26 L453.49 957.24 L453.64 960.22 L453.79 963.19 L453.94 966.17 L454.08 969.15" fill="none" stroke="#2a2a2a" stroke-width="0.95" stroke-dasharray="2.1 1.9"/>
<path d="M43.57 1082.68 L45.23 1080.17 L46.90 1077.67 L48.57 1075.18 L50.26 1072.70 L51.97 1070.23 L53.68 1067.76 L55.41 1065.31 L57.14 1062.86 L58.89 1060.42 L60.65 1057.99 L62.43 1055.57 L64.21 1053.16 L66.00 1050.76 L67.81 1048.37 L69.63 1045.99 L71.46 1043.61 L73.30 1041.25 L75.15 1038.89 L77.01 1036.55 L78.89 1034.21 L80.77 1031.89 L82.67 1029.57 L84.57 1027.26 L86.49 1024.96 L88.42 1022.67 L90.36 1020.39 L92.31 1018.12 L94.27 1015.86 L96.24 1013.61 L98.22 1011.37 L100.22 1009.13 L102.22 1006.91 L104.23 1004.70 L106.26 1002.50 L108.29 1000.30 L110.33 998.12 L112.39 995.95 L114.45 993.78 L116.53 991.63 L118.61 989.49 L120.71 987.35 L122.81 985.23 L124.93 983.12 L127.05 981.01 L129.19 978.92 L131.33 976.83 L133.49 974.76 L135.65 972.70 L137.82 970.65 L140.01 968.60 L142.20 966.57 L144.40 964.55 L146.61 962.54 L148.83 960.53 L151.06 958.54 L153.30 956.56 L155.55 954.59 L157.81 952.63 L160.07 950.68 L162.35 948.74 L164.64 946.82 L166.93 944.90 L169.23 942.99 L171.54 941.10 L173.86 939.21 L176.19 937.33 L178.53 935.47 L180.88 933.62 L183.23 931.77 L185.60 929.94 L187.97 928.12 L190.35 926.31 L192.74 924.51 L195.13 922.73 L197.54 920.95 L199.95 919.18 L202.38 917.43 L204.81 915.68 L207.25 913.95 L209.69 912.23 L212.15 910.52 L214.61 908.82 L217.08 907.13 L219.56 905.45 L222.04 903.79 L224.54 902.13 L227.04 900.49 L229.55 898.86 L232.06 897.24 L234.59 895.63 L237.12 894.03 L239.66 892.45 L242.21 890.87 L244.76 889.31 L247.32 887.76 L249.89 886.22 L252.46 884.69 L255.05 883.18 L257.64 881.67 L260.23 880.18 L262.84 878.70 L265.45 877.23 L268.07 875.77 L270.69 874.32 L273.32 872.88 L275.95 871.45 L278.58 870.02 L281.21 868.59 L283.84 867.15 L286.46 865.72 L289.09 864.28 L291.70 862.83 L294.31 861.37 L296.92 859.89 L299.51 858.41 L302.09 856.90 L304.66 855.38 L307.21 853.84 L309.75 852.27 L312.28 850.68 L314.78 849.06 L317.27 847.41 L319.73 845.73 L322.18 844.02 L324.60 842.27 L327.00 840.48 L329.37 838.67 L331.72 836.82 L334.04 834.94 L336.34 833.02 L338.62 831.08 L340.86 829.10 L343.09 827.09 L345.28 825.05 L347.44 822.98 L349.58 820.88 L351.69 818.75 L353.77 816.59 L355.82 814.40 L357.84 812.18 L359.83 809.94 L361.79 807.66 L363.71 805.36 L365.61 803.04 L367.47 800.69 L369.30 798.31 L371.09 795.91 L372.85 793.48 L374.58 791.03 L376.27 788.56 L377.92 786.07 L379.54 783.55 L381.12 781.01 L382.66 778.46 L384.17 775.88 L385.64 773.28 L387.07 770.67 L388.46 768.03 L389.81 765.38 L391.12 762.72 L392.39 760.03 L393.63 757.33 L394.83 754.62 L396.01 751.90 L397.17 749.16 L398.31 746.42 L399.45 743.66 L400.57 740.90 L401.69 738.14 L402.82 735.37 L403.95 732.60 L405.10 729.82 L406.26 727.05 L407.45 724.28 L408.66 721.51 L409.90 718.75 L411.18 715.99 L412.49 713.24 L413.86 710.49 L415.27 707.76 L416.74 705.04 L418.27 702.34 L419.91 699.88 L421.71 698.04 L423.74 697.17 L426.06 697.62 L428.39 699.24 L430.27 701.53 L431.60 704.22 L432.54 707.17 L433.25 710.26 L433.88 713.36 L434.49 716.42 L435.07 719.47 L435.63 722.49 L436.16 725.49 L436.67 728.47 L437.16 731.44 L437.64 734.40 L438.09 737.35 L438.53 740.30 L438.96 743.24 L439.37 746.18 L439.77 749.13 L440.16 752.08 L440.53 755.03 L440.90 757.99 L441.25 760.95 L441.60 763.90 L441.93 766.86 L442.25 769.83 L442.56 772.79 L442.87 775.76 L443.16 778.73 L443.45 781.70 L443.72 784.67 L443.99 787.64 L444.25 790.62 L444.50 793.60 L444.75 796.57 L444.98 799.55 L445.21 802.54 L445.43 805.52 L445.65 808.50 L445.86 811.49 L446.06 814.47 L446.26 817.46 L446.45 820.45 L446.64 823.44 L446.82 826.43 L446.99 829.42 L447.17 832.41 L447.33 835.40 L447.50 838.39 L447.66 841.39 L447.81 844.38 L447.97 847.37 L448.12 850.37 L448.27 853.36 L448.41 856.36 L448.56 859.36 L448.70 862.35 L448.84 865.35 L448.98 868.34 L449.12 871.34 L449.26 874.33 L449.39 877.33 L449.53 880.32 L449.67 883.32 L449.81 886.31 L449.95 889.31 L450.08 892.30 L450.23 895.30 L450.37 898.29 L450.51 901.28 L450.66 904.27 L450.81 907.26 L450.96 910.25 L451.11 913.24 L451.27 916.23 L451.43 919.22 L451.59 922.20 L451.76 925.19 L451.93 928.17 L452.11 931.15 L452.29 934.13 L452.48 937.11 L452.67 940.09 L452.86 943.07 L453.07 946.04 L453.28 949.02 L453.49 951.99 L453.71 954.96 L453.94 957.93" fill="none" stroke="#444" stroke-width="0.95" stroke-dasharray="12 5"/>
<rect x="580.10" y="633.80" width="436.10" height="483.40" fill="none" stroke="#686868" stroke-width="1"/>
<text transform="translate(577.60 1132.60) scale(1 1.04)" text-anchor="middle">-1</text>
<text transform="translate(686.73 1132.60) scale(1 1.04)" text-anchor="middle">-0.5</text>
<text transform="translate(798.15 1132.60) scale(1 1.04)" text-anchor="middle">0</text>
<text transform="translate(907.18 1132.60) scale(1 1.04)" text-anchor="middle">0.5</text>
<text transform="translate(1015.70 1132.60) scale(1 1.04)" text-anchor="middle">1</text>
<text transform="translate(576.90 1121.70) scale(1 1.04)" text-anchor="end">0.04</text>
<text transform="translate(576.90 1073.36) scale(1 1.04)" text-anchor="end">0.05</text>
<text transform="translate(576.90 1025.02) scale(1 1.04)" text-anchor="end">0.06</text>
<text transform="translate(576.90 976.68) scale(1 1.04)" text-anchor="end">0.07</text>
<text transform="translate(576.90 928.34) scale(1 1.04)" text-anchor="end">0.08</text>
<text transform="translate(576.90 880.00) scale(1 1.04)" text-anchor="end">0.09</text>
<text transform="translate(576.90 831.66) scale(1 1.04)" text-anchor="end">0.1</text>
<text transform="translate(576.90 783.32) scale(1 1.04)" text-anchor="end">0.11</text>
<text transform="translate(576.90 734.98) scale(1 1.04)" text-anchor="end">0.12</text>
<text transform="translate(576.90 686.64) scale(1 1.04)" text-anchor="end">0.13</text>
<text transform="translate(576.90 638.30) scale(1 1.04)" text-anchor="end">0.14</text>
<path d="M689.12 1117.20v-5.5M689.12 633.80v5.5M798.15 1117.20v-5.5M798.15 633.80v5.5M907.18 1117.20v-5.5M907.18 633.80v5.5M580.10 1068.86h5.5M1016.20 1068.86h-5.5M580.10 1020.52h5.5M1016.20 1020.52h-5.5M580.10 972.18h5.5M1016.20 972.18h-5.5M580.10 923.84h5.5M1016.20 923.84h-5.5M580.10 875.50h5.5M1016.20 875.50h-5.5M580.10 827.16h5.5M1016.20 827.16h-5.5M580.10 778.82h5.5M1016.20 778.82h-5.5M580.10 730.48h5.5M1016.20 730.48h-5.5M580.10 682.14h5.5M1016.20 682.14h-5.5" stroke="#686868" stroke-width="1" fill="none"/>
<text class="t" x="796.95" y="621.00" text-anchor="middle">(b.2) RMSE</text>
<path d="M589.90 1023.26 L591.39 1020.69 L592.88 1018.12 L594.38 1015.54 L595.88 1012.96 L597.39 1010.37 L598.90 1007.79 L600.42 1005.21 L601.95 1002.63 L603.49 1000.05 L605.05 997.48 L606.62 994.92 L608.20 992.37 L609.80 989.83 L611.42 987.30 L613.06 984.78 L614.72 982.28 L616.40 979.80 L618.11 977.33 L619.84 974.88 L621.60 972.46 L623.38 970.06 L625.20 967.68 L627.04 965.32 L628.91 962.99 L630.81 960.68 L632.73 958.40 L634.68 956.14 L636.66 953.90 L638.66 951.68 L640.68 949.49 L642.73 947.31 L644.81 945.16 L646.90 943.03 L649.02 940.92 L651.16 938.84 L653.32 936.77 L655.50 934.72 L657.70 932.70 L659.92 930.69 L662.16 928.70 L664.42 926.73 L666.70 924.79 L668.99 922.86 L671.30 920.95 L673.63 919.05 L675.97 917.18 L678.32 915.32 L680.69 913.49 L683.08 911.66 L685.47 909.86 L687.88 908.07 L690.30 906.31 L692.74 904.55 L695.19 902.82 L697.64 901.10 L700.11 899.40 L702.60 897.71 L705.09 896.04 L707.59 894.39 L710.10 892.75 L712.63 891.13 L715.16 889.52 L717.70 887.94 L720.25 886.36 L722.81 884.81 L725.38 883.27 L727.96 881.74 L730.55 880.23 L733.14 878.74 L735.74 877.26 L738.35 875.79 L740.97 874.34 L743.59 872.91 L746.22 871.49 L748.86 870.08 L751.50 868.69 L754.15 867.31 L756.80 865.95 L759.46 864.59 L762.13 863.25 L764.79 861.91 L767.47 860.59 L770.15 859.27 L772.83 857.96 L775.52 856.66 L778.21 855.36 L780.90 854.07 L783.60 852.79 L786.30 851.50 L789.00 850.23 L791.71 848.95 L794.41 847.68 L797.12 846.40 L799.84 845.13 L802.55 843.86 L805.27 842.58 L807.98 841.31 L810.70 840.03 L813.42 838.75 L816.14 837.46 L818.85 836.17 L821.57 834.87 L824.28 833.57 L826.99 832.25 L829.69 830.93 L832.39 829.59 L835.08 828.24 L837.76 826.88 L840.44 825.51 L843.10 824.11 L845.75 822.70 L848.39 821.27 L851.02 819.82 L853.63 818.36 L856.23 816.86 L858.82 815.35 L861.38 813.81 L863.93 812.25 L866.46 810.66 L868.97 809.04 L871.46 807.40 L873.93 805.72 L876.37 804.01 L878.79 802.27 L881.19 800.50 L883.56 798.69 L885.91 796.84 L888.22 794.96 L890.51 793.04 L892.77 791.09 L895.00 789.10 L897.21 787.07 L899.38 785.01 L901.52 782.92 L903.64 780.79 L905.72 778.64 L907.77 776.45 L909.80 774.24 L911.79 771.99 L913.76 769.72 L915.69 767.42 L917.59 765.10 L919.46 762.75 L921.30 760.37 L923.10 757.98 L924.88 755.56 L926.62 753.12 L928.33 750.66 L930.00 748.17 L931.65 745.68 L933.26 743.16 L934.84 740.62 L936.38 738.07 L937.89 735.51 L939.37 732.92 L940.81 730.33 L942.21 727.72 L943.59 725.11 L944.93 722.48 L946.23 719.83 L947.51 717.18 L948.77 714.50 L950.02 711.80 L951.25 709.08 L952.47 706.34 L953.70 703.56 L954.93 700.76 L956.17 697.92 L957.42 695.04 L958.69 692.12 L959.99 689.18 L961.39 686.32 L962.92 683.65 L964.67 681.29 L966.68 679.35 L968.98 677.97 L971.43 677.37 L973.87 677.74 L976.19 678.96 L978.27 680.87 L980.00 683.30 L981.35 686.07 L982.43 689.05 L983.36 692.11 L984.23 695.14 L985.05 698.14 L985.83 701.12 L986.56 704.08 L987.25 707.01 L987.90 709.94 L988.52 712.85 L989.11 715.75 L989.67 718.65 L990.20 721.55 L990.72 724.46 L991.21 727.36 L991.69 730.28 L992.15 733.22 L992.60 736.16 L993.03 739.11 L993.46 742.07 L993.87 745.03 L994.27 748.00 L994.65 750.98 L995.03 753.97 L995.39 756.96 L995.75 759.95 L996.10 762.94 L996.44 765.94 L996.77 768.93 L997.09 771.93 L997.41 774.93 L997.72 777.92 L998.02 780.91 L998.32 783.90 L998.61 786.89 L998.90 789.87 L999.19 792.84 L999.47 795.81 L999.76 798.77 L1000.04 801.72 L1000.31 804.66" fill="none" stroke="#444" stroke-width="0.95"/>
<path d="M590.31 1041.37 L591.59 1038.65 L592.91 1035.95 L594.25 1033.27 L595.62 1030.60 L597.03 1027.96 L598.46 1025.33 L599.93 1022.72 L601.42 1020.13 L602.94 1017.55 L604.50 1015.00 L606.08 1012.46 L607.68 1009.95 L609.32 1007.45 L610.98 1004.97 L612.67 1002.51 L614.39 1000.07 L616.13 997.64 L617.89 995.24 L619.69 992.86 L621.51 990.49 L623.35 988.15 L625.22 985.82 L627.11 983.51 L629.02 981.23 L630.96 978.96 L632.92 976.71 L634.91 974.49 L636.91 972.28 L638.94 970.09 L640.99 967.92 L643.06 965.78 L645.16 963.65 L647.27 961.54 L649.40 959.46 L651.56 957.39 L653.73 955.35 L655.92 953.32 L658.13 951.32 L660.36 949.34 L662.61 947.37 L664.87 945.43 L667.15 943.51 L669.45 941.60 L671.77 939.72 L674.10 937.85 L676.45 936.00 L678.81 934.17 L681.18 932.36 L683.57 930.57 L685.98 928.79 L688.39 927.03 L690.83 925.29 L693.27 923.57 L695.72 921.86 L698.19 920.16 L700.67 918.49 L703.16 916.82 L705.66 915.18 L708.17 913.55 L710.68 911.93 L713.21 910.33 L715.75 908.74 L718.29 907.16 L720.85 905.60 L723.41 904.06 L725.97 902.52 L728.55 901.00 L731.13 899.50 L733.72 898.00 L736.31 896.52 L738.91 895.05 L741.51 893.59 L744.13 892.14 L746.74 890.71 L749.37 889.29 L752.00 887.88 L754.63 886.48 L757.27 885.09 L759.92 883.72 L762.57 882.36 L765.23 881.01 L767.90 879.67 L770.57 878.34 L773.24 877.02 L775.93 875.72 L778.61 874.42 L781.30 873.14 L784.00 871.87 L786.71 870.61 L789.41 869.36 L792.13 868.12 L794.85 866.89 L797.57 865.67 L800.30 864.46 L803.03 863.26 L805.77 862.08 L808.52 860.90 L811.27 859.73 L814.02 858.57 L816.78 857.43 L819.54 856.29 L822.31 855.15 L825.07 854.02 L827.84 852.88 L830.60 851.74 L833.37 850.60 L836.13 849.45 L838.88 848.28 L841.63 847.11 L844.37 845.92 L847.10 844.70 L849.82 843.47 L852.53 842.21 L855.23 840.93 L857.92 839.62 L860.59 838.28 L863.25 836.90 L865.89 835.49 L868.51 834.03 L871.11 832.54 L873.70 831.01 L876.25 829.45 L878.79 827.84 L881.30 826.19 L883.78 824.50 L886.23 822.78 L888.65 821.01 L891.04 819.21 L893.39 817.36 L895.71 815.47 L897.99 813.55 L900.23 811.58 L902.43 809.58 L904.59 807.53 L906.71 805.45 L908.78 803.32 L910.80 801.15 L912.78 798.94 L914.71 796.70 L916.60 794.42 L918.45 792.10 L920.26 789.75 L922.02 787.36 L923.75 784.95 L925.44 782.50 L927.09 780.03 L928.70 777.52 L930.29 774.99 L931.84 772.44 L933.35 769.86 L934.84 767.26 L936.30 764.64 L937.72 762.01 L939.13 759.35 L940.50 756.67 L941.85 753.98 L943.18 751.28 L944.48 748.56 L945.76 745.83 L947.02 743.10 L948.26 740.35 L949.49 737.59 L950.69 734.83 L951.89 732.07 L953.07 729.30 L954.26 726.54 L955.46 723.78 L956.69 721.03 L957.96 718.30 L959.29 715.60 L960.68 712.91 L962.14 710.26 L963.69 707.64 L965.35 705.06 L967.11 702.53 L969.00 700.08 L970.96 698.09 L972.92 697.07 L974.82 697.53 L976.60 699.32 L978.21 701.67 L979.62 704.15 L980.86 706.74 L981.94 709.43 L982.87 712.21 L983.67 715.07 L984.36 718.00 L984.95 720.98 L985.45 724.00 L985.89 727.06 L986.27 730.14 L986.61 733.23 L986.93 736.32 L987.23 739.40 L987.55 742.46 L987.87 745.50 L988.19 748.52 L988.52 751.52 L988.85 754.51 L989.18 757.48 L989.52 760.44 L989.85 763.39 L990.18 766.33 L990.51 769.27 L990.84 772.20 L991.17 775.12 L991.48 778.04 L991.79 780.97 L992.10 783.89 L992.39 786.82 L992.68 789.75 L992.96 792.69 L993.22 795.64 L993.48 798.60 L993.72 801.56 L993.96 804.52 L994.19 807.50 L994.41 810.47 L994.62 813.46 L994.83 816.44 L995.04 819.43 L995.23 822.43 L995.43 825.42 L995.62 828.42 L995.80 831.42 L995.99 834.43 L996.17 837.43 L996.36 840.43 L996.54 843.44 L996.72 846.44 L996.90 849.44 L997.09 852.45 L997.28 855.44 L997.47 858.44 L997.66 861.44 L997.86 864.43 L998.06 867.42 L998.27 870.40 L998.49 873.38 L998.71 876.36 L998.94 879.33 L999.17 882.29 L999.42 885.25 L999.67 888.20 L999.94 891.14 L1000.22 894.08 L1000.50 897.00" fill="none" stroke="#2a2a2a" stroke-width="0.95" stroke-dasharray="2.1 1.9"/>
<path d="M590.16 1054.48 L591.18 1051.63 L592.25 1048.81 L593.36 1046.01 L594.51 1043.24 L595.70 1040.48 L596.94 1037.75 L598.21 1035.04 L599.52 1032.35 L600.86 1029.68 L602.24 1027.03 L603.65 1024.40 L605.10 1021.79 L606.58 1019.20 L608.09 1016.62 L609.63 1014.06 L611.20 1011.53 L612.80 1009.00 L614.42 1006.50 L616.07 1004.01 L617.74 1001.54 L619.44 999.08 L621.16 996.63 L622.90 994.20 L624.66 991.79 L626.44 989.39 L628.24 987.00 L630.06 984.62 L631.89 982.26 L633.75 979.92 L635.62 977.59 L637.52 975.28 L639.44 972.98 L641.38 970.71 L643.34 968.46 L645.33 966.22 L647.34 964.01 L649.38 961.82 L651.44 959.66 L653.53 957.52 L655.65 955.40 L657.79 953.31 L659.96 951.25 L662.16 949.21 L664.38 947.19 L666.62 945.20 L668.88 943.24 L671.16 941.29 L673.46 939.37 L675.78 937.46 L678.11 935.58 L680.46 933.72 L682.82 931.88 L685.19 930.05 L687.58 928.25 L689.98 926.46 L692.39 924.70 L694.81 922.95 L697.24 921.21 L699.68 919.50 L702.13 917.80 L704.60 916.12 L707.07 914.46 L709.56 912.82 L712.05 911.19 L714.56 909.57 L717.07 907.98 L719.60 906.40 L722.14 904.83 L724.68 903.28 L727.24 901.75 L729.80 900.23 L732.38 898.73 L734.96 897.24 L737.55 895.77 L740.15 894.31 L742.76 892.86 L745.38 891.43 L748.01 890.02 L750.65 888.61 L753.29 887.22 L755.94 885.84 L758.60 884.48 L761.27 883.13 L763.95 881.79 L766.63 880.46 L769.33 879.15 L772.02 877.85 L774.73 876.56 L777.44 875.28 L780.17 874.01 L782.89 872.76 L785.63 871.51 L788.37 870.28 L791.11 869.05 L793.87 867.84 L796.63 866.63 L799.39 865.44 L802.16 864.25 L804.93 863.06 L807.70 861.88 L810.47 860.70 L813.25 859.52 L816.02 858.35 L818.80 857.17 L821.57 855.99 L824.34 854.81 L827.11 853.62 L829.87 852.43 L832.63 851.23 L835.38 850.02 L838.13 848.81 L840.87 847.58 L843.60 846.35 L846.33 845.10 L849.04 843.83 L851.75 842.55 L854.44 841.26 L857.12 839.94 L859.79 838.61 L862.45 837.26 L865.10 835.89 L867.73 834.49 L870.34 833.08 L872.94 831.63 L875.52 830.16 L878.08 828.67 L880.62 827.14 L883.15 825.59 L885.66 824.01 L888.14 822.39 L890.60 820.74 L893.05 819.06 L895.46 817.34 L897.86 815.58 L900.23 813.79 L902.57 811.96 L904.89 810.09 L907.18 808.18 L909.45 806.24 L911.68 804.26 L913.89 802.24 L916.07 800.19 L918.23 798.11 L920.35 795.99 L922.44 793.84 L924.50 791.66 L926.52 789.45 L928.52 787.20 L930.48 784.93 L932.41 782.63 L934.30 780.30 L936.16 777.94 L937.98 775.55 L939.77 773.13 L941.52 770.70 L943.24 768.23 L944.92 765.74 L946.55 763.23 L948.15 760.69 L949.71 758.13 L951.23 755.55 L952.71 752.95 L954.15 750.33 L955.56 747.69 L957.03 745.08 L958.65 742.54 L960.54 740.13 L962.79 737.88 L965.39 735.92 L968.12 734.50 L970.75 733.85 L973.04 734.22 L974.97 735.56 L976.59 737.63 L977.99 740.19 L979.22 743.01 L980.37 745.89 L981.43 748.78 L982.42 751.67 L983.35 754.58 L984.20 757.49 L985.00 760.40 L985.74 763.33 L986.42 766.25 L987.05 769.19 L987.64 772.13 L988.18 775.07 L988.68 778.02 L989.15 780.98 L989.58 783.93 L989.99 786.89 L990.37 789.86 L990.73 792.82 L991.07 795.79 L991.40 798.76 L991.72 801.73 L992.04 804.71 L992.35 807.68 L992.66 810.65 L992.98 813.63 L993.30 816.60 L993.62 819.58 L993.94 822.55 L994.27 825.53 L994.59 828.50 L994.91 831.48 L995.23 834.45 L995.55 837.43 L995.86 840.41 L996.17 843.38 L996.47 846.36 L996.77 849.34 L997.07 852.32 L997.35 855.30 L997.63 858.28 L997.90 861.26 L998.16 864.25 L998.42 867.23 L998.66 870.21 L998.89 873.20 L999.10 876.18 L999.31 879.17 L999.50 882.16 L999.67 885.15 L999.83 888.14 L999.98 891.13 L1000.11 894.12 L1000.22 897.11" fill="none" stroke="#444" stroke-width="0.95" stroke-dasharray="12 5"/>
</svg>
</body></html>
